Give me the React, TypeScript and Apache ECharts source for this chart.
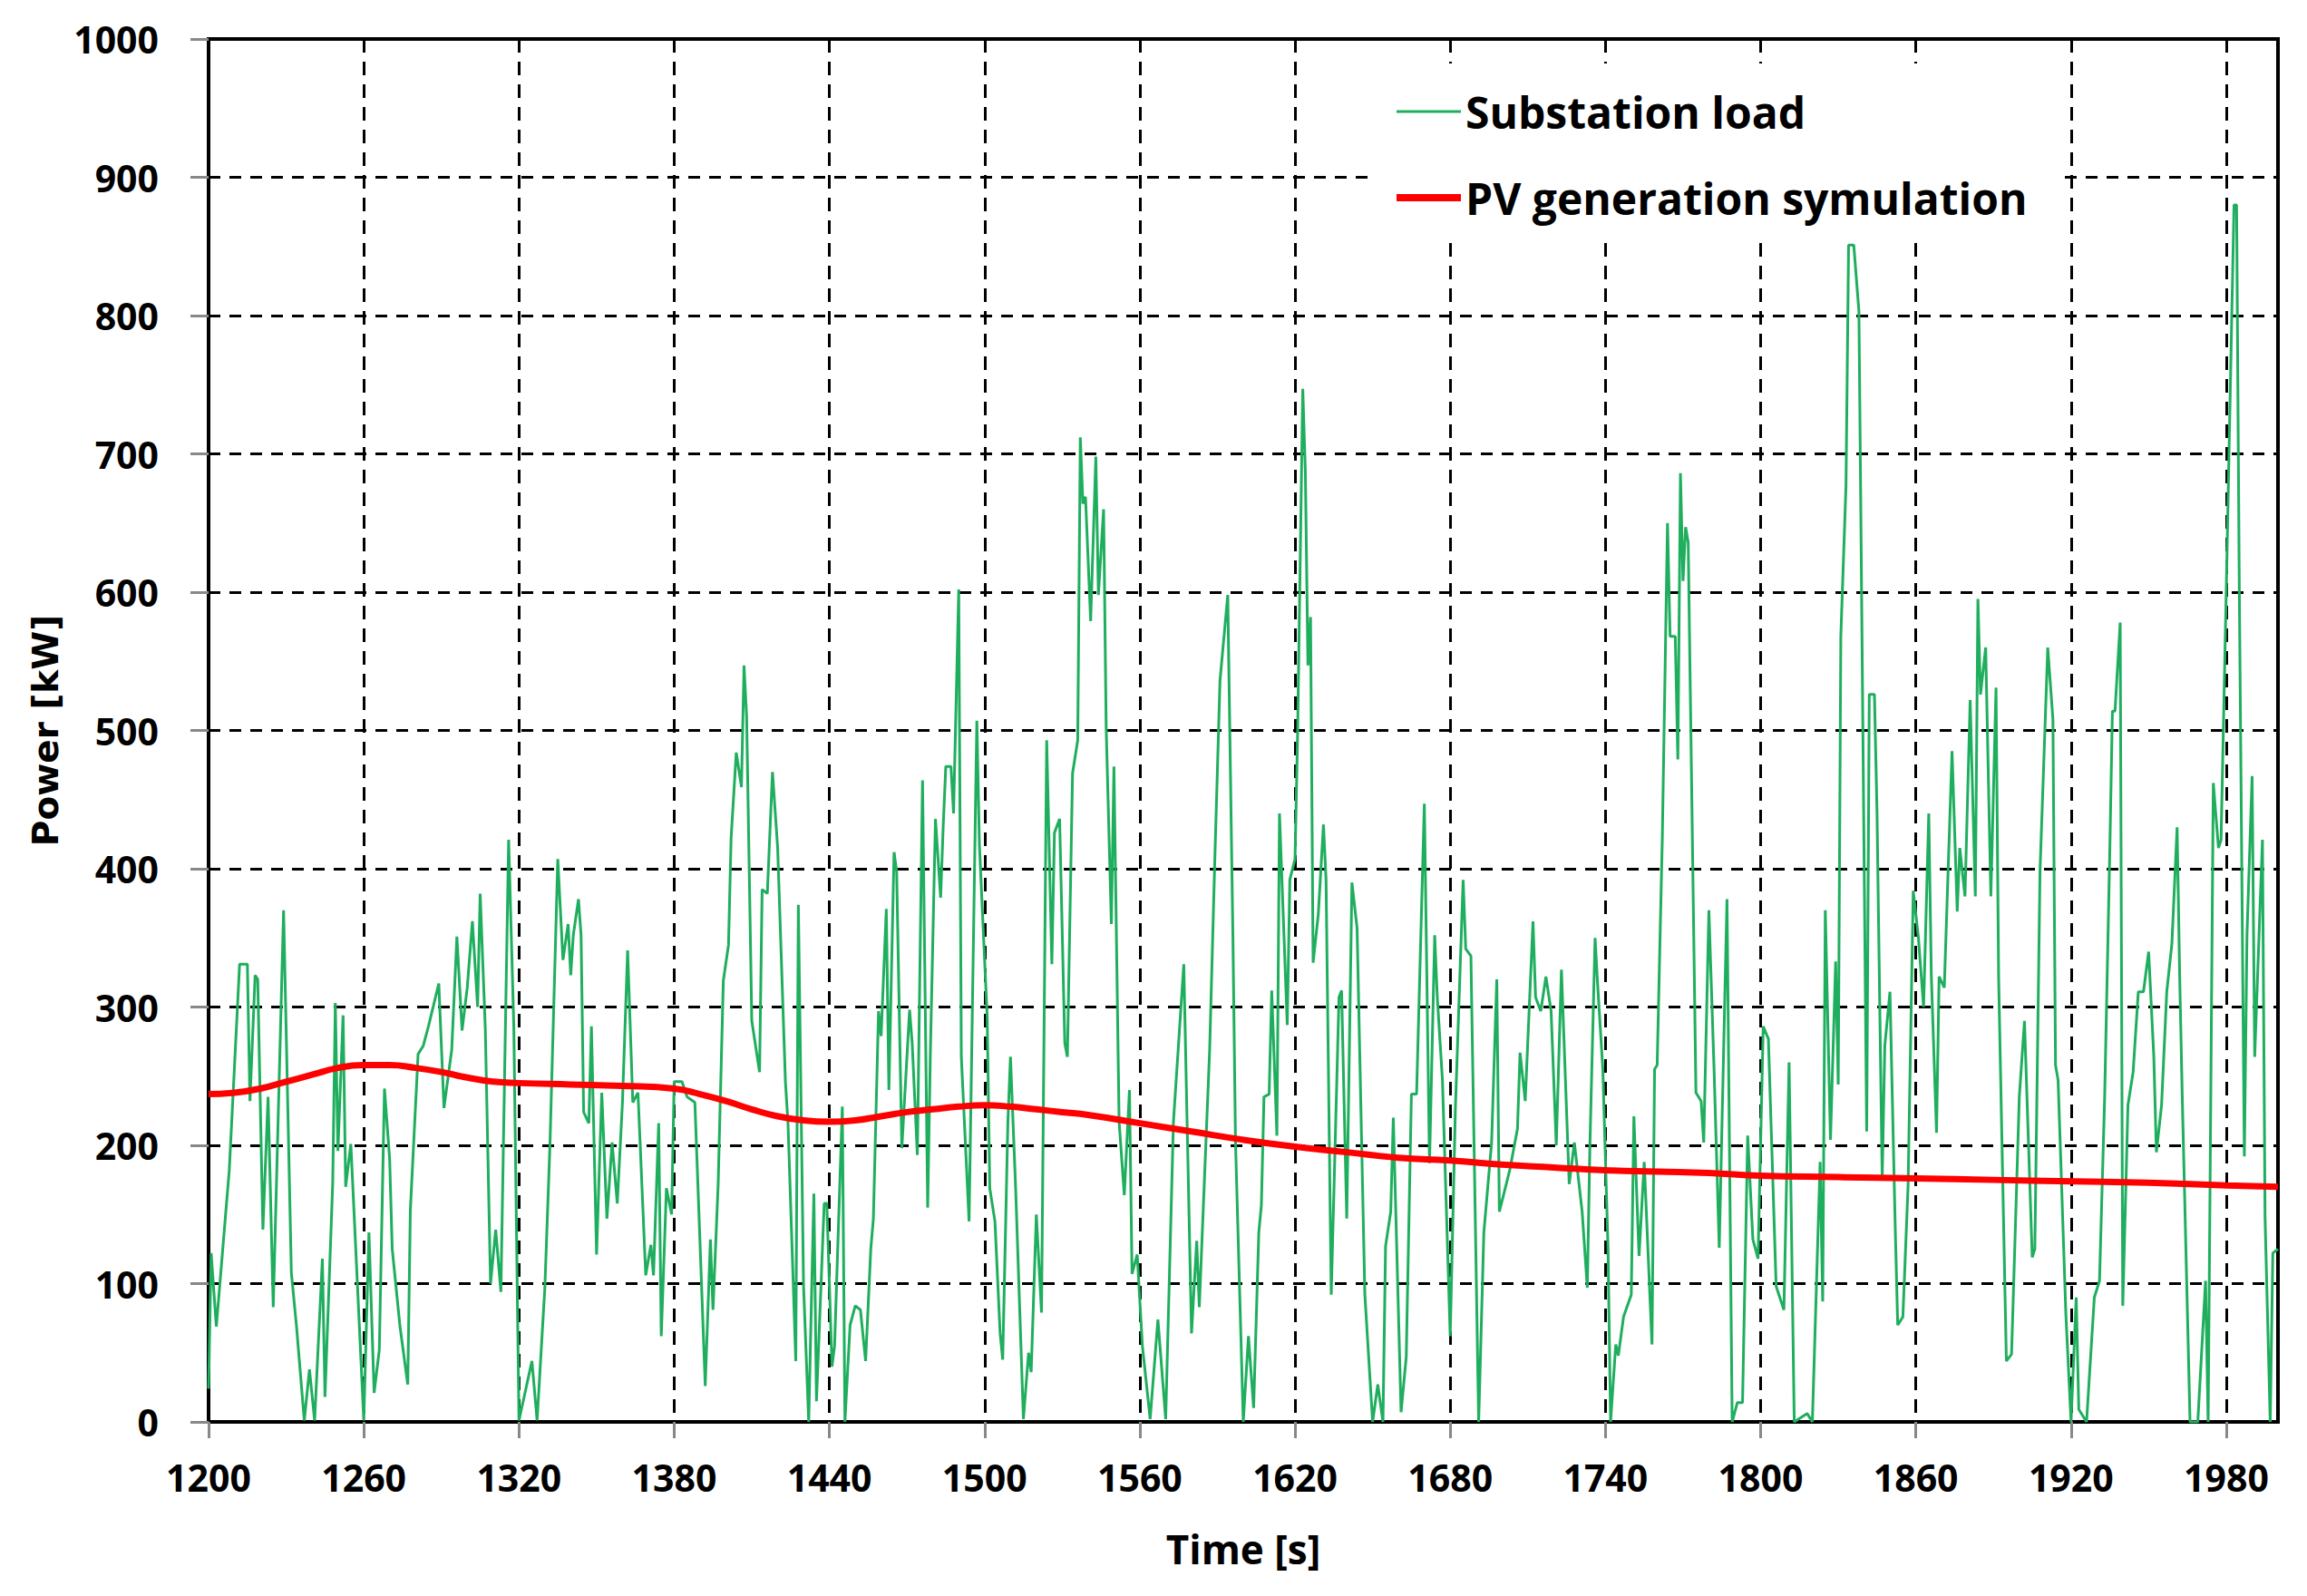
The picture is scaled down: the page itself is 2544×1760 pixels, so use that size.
import React, { useEffect, useRef } from "react";
import * as echarts from "echarts";

// Substation load (green), time [s] and power [kW]
const loadTime = [
  1200, 1201, 1203, 1208, 1212, 1215, 1216, 1218, 1219, 1221, 1223, 1225, 1229, 1232, 1234, 1237, 1239, 1241, 1244, 1245,
  1248, 1249, 1250, 1252, 1253, 1255, 1260, 1262, 1264, 1266, 1268, 1270, 1271, 1274, 1277, 1278, 1281, 1283, 1285, 1289,
  1291, 1294, 1296, 1298, 1300, 1302, 1304, 1305, 1307, 1309, 1311, 1313, 1316, 1318, 1320, 1325, 1327, 1330, 1332, 1335,
  1337, 1339, 1340, 1341, 1343, 1344, 1345, 1347, 1348, 1350, 1352, 1354, 1356, 1358, 1360, 1362, 1364, 1366, 1369, 1371,
  1372, 1374, 1375, 1377, 1379, 1380, 1383, 1385, 1388, 1392, 1394, 1395, 1397, 1399, 1401, 1402, 1404, 1406, 1407, 1408,
  1410, 1413, 1414, 1416, 1418, 1420, 1423, 1424, 1427, 1428, 1430, 1432, 1434, 1435, 1438, 1439, 1441, 1442, 1445, 1446,
  1448, 1450, 1452, 1454, 1456, 1457, 1459, 1460, 1462, 1463, 1465, 1466, 1468, 1471, 1472, 1474, 1476, 1478, 1479, 1481,
  1483, 1484, 1485, 1487, 1488, 1490, 1491, 1494, 1497, 1498, 1501, 1502, 1504, 1506, 1507, 1509, 1510, 1512, 1515, 1517,
  1518, 1520, 1522, 1524, 1526, 1527, 1529, 1531, 1532, 1534, 1536, 1537, 1538, 1539, 1541, 1543, 1544, 1546, 1547, 1549,
  1550, 1552, 1554, 1556, 1557, 1559, 1561, 1564, 1567, 1570, 1573, 1577, 1580, 1582, 1583, 1587, 1589, 1591, 1594, 1596,
  1597, 1600, 1602, 1604, 1606, 1607, 1608, 1610, 1611, 1613, 1614, 1617, 1618, 1620, 1621, 1623, 1624, 1625, 1626, 1627,
  1629, 1631, 1632, 1634, 1637, 1638, 1640, 1642, 1644, 1647, 1650, 1652, 1654, 1655, 1657, 1658, 1661, 1663, 1665, 1667,
  1670, 1672, 1674, 1675, 1677, 1680, 1682, 1685, 1686, 1688, 1691, 1693, 1696, 1698, 1699, 1701, 1703, 1706, 1707, 1709,
  1712, 1713, 1715, 1717, 1719, 1721, 1723, 1726, 1728, 1731, 1733, 1734, 1736, 1737, 1739, 1741, 1742, 1744, 1745, 1747,
  1750, 1751, 1753, 1755, 1758, 1759, 1760, 1762, 1764, 1765, 1767, 1768, 1769, 1770, 1771, 1772, 1775, 1777, 1778, 1780,
  1782, 1784, 1787, 1789, 1791, 1793, 1795, 1797, 1799, 1801, 1803, 1806, 1809, 1811, 1813, 1818, 1820, 1823, 1824, 1825,
  1827, 1829, 1830, 1831, 1833, 1834, 1836, 1838, 1841, 1842, 1844, 1845, 1847, 1848, 1850, 1852, 1853, 1855, 1857, 1859,
  1861, 1863, 1865, 1866, 1868, 1869, 1871, 1874, 1876, 1877, 1879, 1881, 1883, 1884, 1885, 1887, 1889, 1891, 1892, 1895,
  1897, 1900, 1902, 1905, 1906, 1908, 1911, 1913, 1914, 1915, 1918, 1920, 1922, 1923, 1926, 1929, 1931, 1933, 1935, 1936,
  1937, 1939, 1940, 1942, 1944, 1946, 1948, 1950, 1952, 1953, 1955, 1957, 1959, 1961, 1962, 1963, 1966, 1969, 1972, 1973,
  1975, 1977, 1978, 1980, 1983, 1984, 1985, 1987, 1988, 1990, 1991, 1994, 1995, 1997, 1998, 2000,
];
const loadKW = [
  24, 122, 69, 182, 331, 331, 232, 323, 320, 139, 235, 83, 370, 108, 69, 1, 38, 1, 118, 18,
  173, 303, 196, 294, 170, 201, 1, 137, 21, 52, 241, 190, 125, 69, 27, 153, 266, 272, 286, 317,
  227, 269, 351, 283, 314, 362, 300, 382, 283, 100, 139, 94, 421, 286, 1, 44, 1, 97, 202, 407,
  334, 360, 323, 352, 378, 352, 224, 216, 286, 121, 238, 147, 202, 158, 231, 341, 231, 238, 106, 128,
  106, 216, 62, 169, 150, 246, 246, 235, 231, 26, 132, 81, 172, 319, 345, 422, 484, 459, 547, 510,
  290, 253, 385, 382, 470, 415, 246, 216, 44, 374, 99, 0, 165, 15, 158, 158, 40, 55, 228, 0,
  70, 84, 81, 44, 125, 147, 297, 279, 371, 240, 412, 398, 198, 298, 274, 193, 464, 155, 264, 436,
  379, 431, 474, 474, 440, 602, 264, 145, 507, 417, 293, 169, 145, 64, 45, 217, 264, 169, 2, 50,
  36, 150, 79, 493, 331, 426, 436, 274, 264, 469, 493, 712, 664, 669, 579, 698, 598, 660, 502, 360,
  474, 217, 164, 240, 107, 121, 55, 2, 74, 2, 217, 331, 64, 131, 83, 269, 407, 536, 598, 350,
  202, 0, 62, 10, 137, 157, 235, 237, 312, 207, 440, 287, 392, 407, 497, 747, 687, 547, 582, 332,
  367, 432, 392, 92, 307, 312, 147, 390, 357, 92, 0, 27, 0, 127, 152, 220, 7, 47, 237, 237,
  447, 187, 352, 307, 247, 62, 227, 392, 342, 337, 0, 137, 202, 320, 152, 167, 182, 212, 267, 232,
  362, 307, 297, 322, 297, 200, 327, 172, 202, 152, 97, 200, 350, 316, 255, 126, 0, 56, 48, 76,
  92, 221, 120, 188, 56, 255, 258, 423, 650, 568, 568, 479, 686, 608, 647, 636, 238, 232, 202, 370,
  255, 126, 378, 0, 14, 14, 207, 132, 118, 286, 277, 98, 81, 260, 0, 6, 0, 188, 87, 370,
  204, 333, 244, 568, 677, 851, 851, 803, 210, 526, 526, 440, 176, 272, 311, 143, 70, 76, 171, 384,
  350, 300, 440, 322, 209, 322, 314, 485, 369, 415, 380, 522, 380, 595, 526, 560, 380, 531, 322, 44,
  49, 235, 290, 119, 125, 398, 560, 508, 258, 247, 78, 0, 90, 9, 0, 90, 102, 235, 415, 514,
  514, 578, 84, 229, 253, 311, 311, 340, 264, 195, 229, 311, 346, 430, 322, 235, 0, 0, 102, 0,
  462, 415, 421, 601, 880, 880, 613, 192, 351, 467, 264, 421, 148, 0, 122, 125,
];

// PV generation simulation (red)
const pvTime = [
  1200, 1210, 1220, 1230, 1240, 1250, 1260, 1270, 1280, 1290, 1300, 1310, 1320, 1340, 1360, 1380, 1390, 1400, 1410, 1420,
  1430, 1440, 1450, 1460, 1470, 1480, 1490, 1500, 1510, 1520, 1530, 1540, 1560, 1580, 1600, 1620, 1640, 1660, 1680, 1700,
  1720, 1740, 1760, 1780, 1800, 1830, 1860, 1890, 1920, 1950, 1980, 2000,
];
const pvKW = [
  237, 238, 241, 246, 251, 256, 258, 258, 256, 253, 249, 246, 245, 244, 243, 241, 237, 232, 226, 221,
  218, 217, 218, 221, 224, 226, 228, 229, 228, 226, 224, 222, 216, 210, 204, 199, 195, 191, 189, 186,
  184, 182, 181, 180, 178, 177, 176, 175, 174, 173, 171, 170,
];

const seriesNames = ["Substation load", "PV generation symulation"];
const seriesColors = ["#1fae5e", "#ff0000"];
const seriesWidths = [3, 7];
const xAxisName = "Time [s]";
const yAxisName = "Power [kW]";

const loadData = loadTime.map((t, i) => [t, loadKW[i]]);
const pvData = pvTime.map((t, i) => [t, pvKW[i]]);

export default function App() {
  const ref = useRef<HTMLDivElement>(null);
  useEffect(() => {
    if (!ref.current) return;
    const chart = echarts.init(ref.current, null, { renderer: "svg" });
    const tickFont = { fontFamily: "Open Sans", fontWeight: "bold" as const, fontSize: 41, color: "#000" };
    const plain = (v: number) => String(v);
    chart.setOption({
      animation: false,
      backgroundColor: "#fff",
      grid: {
        left: 230,
        right: 32,
        top: 43,
        bottom: 192,
        show: true,
        borderColor: "#000",
        borderWidth: 4,
        backgroundColor: "transparent",
      },
      xAxis: {
        type: "value",
        min: 1200,
        max: 2000,
        interval: 60,
        name: xAxisName,
        nameLocation: "middle",
        nameGap: 118,
        nameTextStyle: { fontFamily: "Open Sans", fontWeight: "bold", fontSize: 44, color: "#000" },
        axisLine: { show: true, lineStyle: { color: "#000", width: 4 } },
        axisTick: { show: true, length: 18, lineStyle: { color: "#888", width: 3 } },
        axisLabel: { ...tickFont, margin: 40, showMaxLabel: false, formatter: plain },
        splitLine: { show: true, lineStyle: { color: "#000", width: 3, type: [15, 10] } },
      },
      yAxis: {
        type: "value",
        min: 0,
        max: 1000,
        interval: 100,
        name: yAxisName,
        nameLocation: "middle",
        nameGap: 160,
        nameTextStyle: { fontFamily: "DejaVu Sans", fontWeight: "bold", fontSize: 39, color: "#000" },
        axisLine: { show: true, lineStyle: { color: "#000", width: 4 } },
        axisTick: { show: true, length: 20, lineStyle: { color: "#888", width: 3 } },
        axisLabel: { ...tickFont, margin: 55, formatter: plain },
        splitLine: { show: true, lineStyle: { color: "#000", width: 3, type: [13, 10] } },
      },
      graphic: [
        {
          type: "rect",
          z: 1,
          shape: { x: 1513, y: 70, width: 762, height: 198 },
          style: { fill: "#fff" },
          silent: true,
        },
      ],
      legend: {
        orient: "vertical",
        left: 1536,
        top: 98,
        padding: 0,
        itemWidth: 71,
        itemHeight: 10,
        itemGap: 45,
        itemStyle: { opacity: 0 },
        textStyle: { fontFamily: "Open Sans", fontWeight: "bold", fontSize: 48, lineHeight: 50, color: "#000" },
        data: seriesNames.map((name, i) => ({
          name,
          lineStyle: { color: seriesColors[i], width: i === 0 ? 3 : 8 },
        })),
      },
      series: [
        {
          name: seriesNames[0],
          type: "line",
          data: loadData,
          showSymbol: false,
          symbol: "none",
          lineStyle: { color: seriesColors[0], width: seriesWidths[0] },
          itemStyle: { color: seriesColors[0] },
          z: 2,
        },
        {
          name: seriesNames[1],
          type: "line",
          data: pvData,
          smooth: true,
          showSymbol: false,
          symbol: "none",
          lineStyle: { color: seriesColors[1], width: seriesWidths[1] },
          itemStyle: { color: seriesColors[1] },
          z: 3,
        },
      ],
    });
    return () => chart.dispose();
  }, []);
  return (
    <div
      ref={ref}
      style={{ position: "fixed", left: 0, top: 0, width: 2544, height: 1760, background: "#fff" }}
    />
  );
}
